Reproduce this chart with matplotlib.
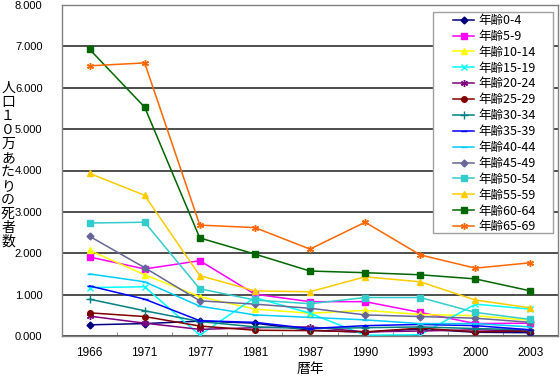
import matplotlib
matplotlib.use("Agg")
import matplotlib.pyplot as plt
from matplotlib.ticker import FixedLocator, FuncFormatter
from matplotlib.patches import Rectangle

plt.rcParams['font.family'] = ['Liberation Sans', 'Noto Sans CJK JP', 'DejaVu Sans']

years = ["1966", "1971", "1977", "1981", "1987", "1990", "1993", "2000", "2003"]
labels = ["年齢0-4", "年齢5-9", "年齢10-14", "年齢15-19", "年齢20-24", "年齢25-29",
          "年齢30-34", "年齢35-39", "年齢40-44", "年齢45-49", "年齢50-54",
          "年齢55-59", "年齢60-64", "年齢65-69"]

age_0_4   = [0.27, 0.30, 0.36, 0.31, 0.14, 0.09, 0.17, 0.09, 0.08]
age_5_9   = [1.91, 1.62, 1.82, 1.01, 0.83, 0.83, 0.57, 0.30, 0.31]
age_10_14 = [2.07, 1.48, 0.95, 0.65, 0.55, 0.62, 0.52, 0.49, 0.38]
age_15_19 = [1.17, 1.19, 0.02, 0.93, 0.55, 0.02, 0.03, 0.77, 0.65]
age_20_24 = [0.48, 0.31, 0.16, 0.20, 0.22, 0.10, 0.12, 0.15, 0.12]
age_25_29 = [0.56, 0.47, 0.24, 0.14, 0.13, 0.10, 0.19, 0.10, 0.12]
age_30_34 = [0.89, 0.61, 0.35, 0.22, 0.18, 0.20, 0.22, 0.18, 0.15]
age_35_39 = [1.21, 0.89, 0.37, 0.33, 0.18, 0.25, 0.28, 0.25, 0.15]
age_40_44 = [1.50, 1.31, 0.72, 0.51, 0.45, 0.39, 0.30, 0.30, 0.22]
age_45_49 = [2.41, 1.65, 0.85, 0.77, 0.67, 0.51, 0.47, 0.43, 0.33]
age_50_54 = [2.73, 2.75, 1.14, 0.87, 0.78, 0.93, 0.93, 0.57, 0.40]
age_55_59 = [3.93, 3.40, 1.46, 1.09, 1.07, 1.43, 1.31, 0.87, 0.68]
age_60_64 = [6.93, 5.53, 2.37, 1.98, 1.57, 1.53, 1.48, 1.38, 1.09]
age_65_69 = [6.53, 6.60, 2.68, 2.62, 2.10, 2.75, 1.96, 1.64, 1.77]

series = [age_0_4, age_5_9, age_10_14, age_15_19, age_20_24, age_25_29, age_30_34,
          age_35_39, age_40_44, age_45_49, age_50_54, age_55_59, age_60_64, age_65_69]

colors = ["#000080", "#FF00FF", "#FFFF00", "#00FFFF", "#800080", "#800000", "#008080",
          "#0000FF", "#00CCFF", "#666699", "#33CCCC", "#FFCC00", "#006600", "#FF6600"]
markers = ["D", "s", "^", "x", (6, 2, 0), "o", "+", "_", "_", "D", "s", "^", "s", (6, 2, 0)]
msizes = [3.5, 4.5, 5, 5, 5, 4, 6, 5, 5, 3.5, 4.5, 5, 4.5, 5]

W, H = 560, 379
fig = plt.figure(figsize=(W/100, H/100), dpi=100)
ax = fig.add_axes([62/W, 1-336/H, (558-62)/W, (336-5)/H])

x = list(range(len(years)))
for s, lab, c, m, ms in zip(series, labels, colors, markers, msizes):
    ax.plot(x, s, color=c, marker=m, markersize=ms, linewidth=1.1, label=lab,
            markeredgecolor=c, markerfacecolor=c, markeredgewidth=1.0)

ax.set_xlim(-0.5, len(years) - 0.5)
ax.set_ylim(0, 8)
ax.set_yticks(range(0, 9))
ax.yaxis.set_major_formatter(FuncFormatter(lambda v, p: f"{v:.3f}"))
ax.set_xticks(x)
ax.set_xticklabels(years)
ax.xaxis.set_minor_locator(FixedLocator([i + 0.5 for i in range(-1, len(years))]))
ax.tick_params(axis='x', which='major', length=0, pad=8, labelsize=8.5)
ax.tick_params(axis='x', which='minor', length=3, direction='in', color='#808080')
ax.tick_params(axis='y', length=0, labelsize=8, pad=14)

ax.grid(axis='y', color='#404040', linewidth=1.3)
ax.set_axisbelow(True)
for sp in ax.spines.values():
    sp.set_color('#808080')
    sp.set_linewidth(1.0)

ax.set_xlabel("暦年", fontsize=10, family=['Noto Sans CJK JP'], labelpad=2)
ylab = "人口１０万あたりの死者数"
fig.text(8/W, 1-165/H, "\n".join(ylab), ha='center', va='center', fontsize=10,
         family=['Noto Sans CJK JP'], linespacing=1.0)

# legend box
box = Rectangle((433/W, 1-233/H), (553-433)/W, (233-12)/H,
                transform=fig.transFigure, facecolor='white',
                edgecolor='#a0a0a0', linewidth=1.0, zorder=5, clip_on=False)
ax.add_patch(box)
leg = ax.legend(loc='upper left', bbox_to_anchor=(453/W, 1-14/H),
                bbox_transform=fig.transFigure, prop={'family': ['Noto Sans CJK JP'], 'size': 9},
                frameon=False, borderpad=0, labelspacing=0.23, handlelength=1.68,
                handletextpad=0.32, borderaxespad=0)
leg.set_zorder(10)

fig.savefig("out.png", dpi=100)
